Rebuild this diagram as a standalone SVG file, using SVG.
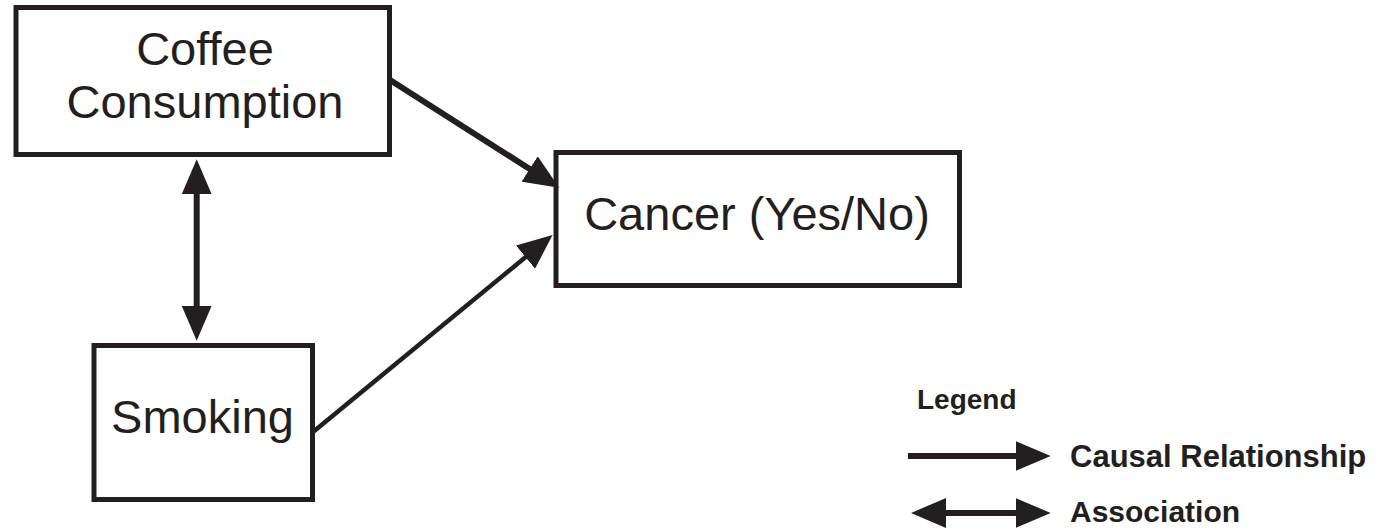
<svg xmlns="http://www.w3.org/2000/svg" width="1383" height="528" viewBox="0 0 1383 528">
<style>
.box{fill:#ffffff;stroke:#231f20;stroke-width:5}
.lbl{font-family:"Liberation Sans",Arial,sans-serif;font-size:47px;fill:#231f20;text-anchor:middle}
.leg{font-family:"Liberation Sans",Arial,sans-serif;font-weight:bold;fill:#231f20}
.ln{fill:none;stroke:#231f20;stroke-width:6}
.thin{stroke-width:4.5}
</style>
<defs>
<marker id="ah" viewBox="0 -15 35 30" markerWidth="35" markerHeight="30" refX="1" refY="0" orient="auto-start-reverse" markerUnits="userSpaceOnUse">
<path d="M0,-15 L35,0 L0,15 Z" fill="#231f20"/>
</marker>
</defs>
<rect width="1383" height="528" fill="#ffffff"/>
<g id="coffee">
<rect class="box" x="16" y="7.5" width="373.5" height="147"/>
<text class="lbl" x="205" y="65">Coffee</text>
<text class="lbl" x="205" y="118">Consumption</text>
</g>
<g id="cancer">
<rect class="box" x="556" y="152.5" width="403.5" height="133"/>
<text class="lbl" x="757" y="230">Cancer (Yes/No)</text>
</g>
<g id="smoking">
<rect class="box" x="94" y="345.5" width="218.5" height="154"/>
<text class="lbl" x="202.5" y="433">Smoking</text>
</g>
<g id="connectors">
<line class="ln" x1="390" y1="80" x2="530.5" y2="169.5" marker-end="url(#ah)"/>
<line class="ln thin" x1="313" y1="432" x2="526.3" y2="256.5" marker-end="url(#ah)"/>
<line class="ln" x1="196.7" y1="193.3" x2="196.7" y2="306.7" marker-start="url(#ah)" marker-end="url(#ah)"/>
</g>
<g id="legend">
<text class="leg" x="917" y="409" font-size="28">Legend</text>
<line class="ln" x1="908" y1="456" x2="1016.7" y2="456" marker-end="url(#ah)"/>
<text class="leg" x="1070" y="467" font-size="31">Causal Relationship</text>
<line class="ln" x1="945" y1="513" x2="1016.7" y2="513" marker-start="url(#ah)" marker-end="url(#ah)"/>
<text class="leg" x="1070" y="522" font-size="30">Association</text>
</g>
</svg>
